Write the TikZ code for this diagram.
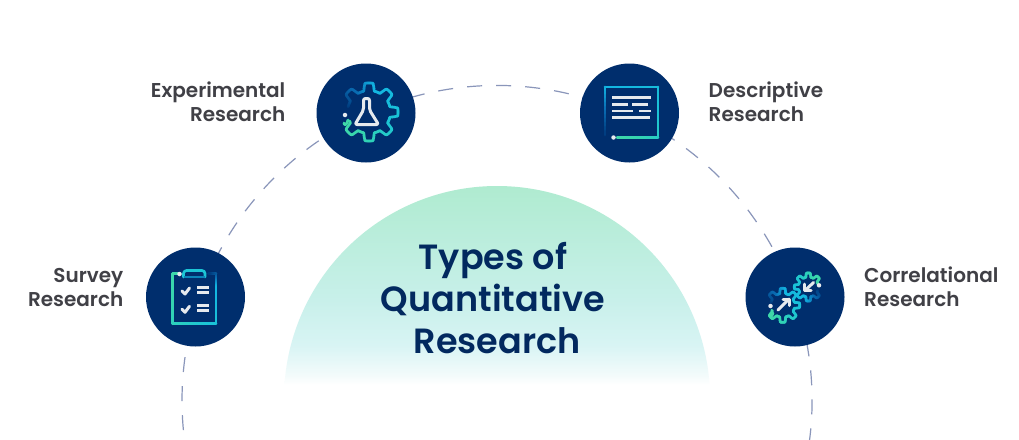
\documentclass[tikz,border=0pt]{standalone}
\usepackage{fontspec}
\setmainfont{Poppins}
\newfontfamily\psemi{Poppins SemiBold}
\definecolor{navy}{HTML}{002E6D}
\definecolor{titlecol}{HTML}{02295F}
\definecolor{labelcol}{HTML}{404046}
\definecolor{ringcol}{HTML}{8A96BA}
\definecolor{iconwhite}{HTML}{E6EAEE}
\definecolor{dA}{HTML}{003A7C}
\definecolor{dB}{HTML}{0A6FB5}
\definecolor{dC}{HTML}{12B5E2}
\definecolor{dD}{HTML}{1CC5D5}
\definecolor{dE}{HTML}{35D5B0}
\definecolor{dF}{HTML}{40D8A8}
\definecolor{domeA}{HTML}{AFEBD0}
\definecolor{domeB}{HTML}{C8F0EA}
\definecolor{domeC}{HTML}{D8F4F4}
\definecolor{domeD}{HTML}{F3FBFB}
\pgfdeclareverticalshading{domefade}{100bp}{color(0bp)=(white); color(25bp)=(white); color(27.5bp)=(domeD); color(35bp)=(domeC); color(46.4bp)=(domeB); color(75bp)=(domeA); color(100bp)=(domeA)}
\newcommand\palset[2]{%
  \pgfmathsetmacro\ppv{#2}%
  \ifdim\ppv pt<15pt
    \pgfmathsetmacro\qq{\ppv/15*100}\colorlet{#1}{dB!\qq!dA}%
  \else\ifdim\ppv pt<28pt
    \pgfmathsetmacro\qq{(\ppv-15)/13*100}\colorlet{#1}{dC!\qq!dB}%
  \else\ifdim\ppv pt<60pt
    \pgfmathsetmacro\qq{(\ppv-28)/32*100}\colorlet{#1}{dD!\qq!dC}%
  \else\ifdim\ppv pt<85pt
    \pgfmathsetmacro\qq{(\ppv-60)/25*100}\colorlet{#1}{dE!\qq!dD}%
  \else
    \pgfmathsetmacro\qq{min(100,(\ppv-85)/15*100)}\colorlet{#1}{dF!\qq!dE}%
  \fi\fi\fi\fi}
\newcommand\gearic[7]{%
  \pgfmathsetmacro\gstep{2}%
  \pgfmathtruncatemacro\gn{(#5-(#6))/\gstep}%
  \foreach \gi in {1,...,\gn}{%
    \pgfmathsetmacro\aa{#5-(\gi-1)*\gstep}%
    \pgfmathsetmacro\ab{#5-\gi*\gstep}%
    \pgfmathsetmacro\ua{abs(mod(\aa+1080-#7+22.5,45)-22.5)}%
    \pgfmathsetmacro\ub{abs(mod(\ab+1080-#7+22.5,45)-22.5)}%
    \pgfmathsetmacro\ra{#4+(#3-#4)*max(0,min(1,(14-\ua)/6))}%
    \pgfmathsetmacro\rb{#4+(#3-#4)*max(0,min(1,(14-\ub)/6))}%
    \palset{segc}{100*\gi/\gn}%
    \draw[iconline,segc] ({#1+\ra*cos(\aa)},{#2-\ra*sin(\aa)}) -- ({#1+\rb*cos(\ab)},{#2-\rb*sin(\ab)});
  }}
\newcommand\gradrun[6]{%
  \foreach \gi in {1,...,12}{%
    \palset{segc}{#5+(#6-(#5))*(\gi-0.5)/12}%
    \draw[iconline,segc] ({#1+(#3-(#1))*(\gi-1)/12},{#2+(#4-(#2))*(\gi-1)/12}) -- ({#1+(#3-(#1))*\gi/12},{#2+(#4-(#2))*\gi/12});
  }}
\tikzset{
  hub/.style={circle,fill=navy,draw=none,minimum size=99pt,inner sep=0pt},
  iconline/.style={line width=2.7pt,line cap=round,line join=round},
  iconmark/.style={draw=iconwhite,line width=3pt,line cap=round,line join=round},
  icondot/.style={circle,fill=iconwhite,inner sep=0pt,minimum size=4.5pt},
  sidelabel/.style={font=\psemi\fontsize{20}{24}\selectfont,text=labelcol,inner sep=0pt},
  titlelabel/.style={font=\psemi\fontsize{35}{42}\selectfont,text=titlecol,inner sep=0pt,anchor=base},
  ring/.style={draw=ringcol,line width=1.2pt,dash pattern=on 15pt off 14.09pt}
}
\begin{document}
\begin{tikzpicture}[x=1pt,y=-1pt]
\useasboundingbox (0,0) rectangle (1019,439);
\fill[white] (0,0) rectangle (1019,439);
\begin{scope}
\clip (497,399) circle[radius=213pt];
\shade[shading=domefade] (270,186) rectangle (724,385);
\end{scope}
\begin{scope}
\clip (0,0) rectangle (1019,439);
\draw[ring] ({497+315*cos(-18.39)},{400.5-315*sin(-18.39)}) arc[start angle=-18.39,end angle=201,radius=315pt];
\end{scope}
\node[hub] (exp) at (366,113) {};
\node[hub] (des) at (629.5,113) {};
\node[hub] (sur) at (195.5,297) {};
\node[hub] (cor) at (795,297) {};
\node[sidelabel,anchor=base east] (exp1) at (285.5,97) {Experimental};
\node[sidelabel,anchor=base east] (exp2) at (285.5,121) {Research};
\node[sidelabel,anchor=base west] (des1) at (708.5,97) {Descriptive};
\node[sidelabel,anchor=base west] (des2) at (708.5,121) {Research};
\node[sidelabel,anchor=base east] (sur1) at (123.5,282) {Survey};
\node[sidelabel,anchor=base east] (sur2) at (123.5,306) {Research};
\node[sidelabel,anchor=base west] (cor1) at (864,282) {Correlational};
\node[sidelabel,anchor=base west] (cor2) at (864,306) {Research};
\node[titlelabel] (t1) at (493,269) {Types of};
\node[titlelabel] (t2) at (493,311) {Quantitative};
\node[titlelabel] (t3) at (497,353) {Research};
% experimental icon
\gearic{369}{112}{29}{21.5}{166}{-156}{90}
\draw[iconline,dF] (344,123) .. controls (344,126) and (347,125) .. (348,120);
\node[icondot] (expd) at (345,115) {};
\draw[iconmark,rounded corners=2pt] (363.5,98.5) -- (369.5,98.5) -- (369.5,110) -- (378.5,124.5) -- (355,124.5) -- (363.5,110) -- cycle;
% descriptive icon
\gradrun{617}{137.5}{658}{137.5}{100}{72}
\gradrun{658}{137.5}{658}{87}{72}{45}
\gradrun{658}{87}{605}{87}{45}{28}
\gradrun{605}{87}{605}{135}{28}{0}
\node[icondot] (desd) at (613.5,137.5) {};
\foreach \ya/\xa/\xb in {97.7/612/651,104.7/612/628,104.7/632/648,111/612/633,111/639/651,117.7/612/650}{
  \draw[iconwhite,line width=2.6pt] (\xa,\ya) -- (\xb,\ya);
}
% survey icon
\gradrun{178}{273.7}{172.5}{273.7}{100}{96}
\gradrun{172.5}{273.7}{172.5}{323.7}{96}{78}
\gradrun{172.5}{323.7}{216}{323.7}{78}{55}
\gradrun{216}{323.7}{216}{285}{55}{28}
\gradrun{216}{285}{216}{273.7}{28}{10}
\gradrun{216}{273.7}{208.5}{273.7}{10}{0}
\node[icondot] (surd) at (179.5,274) {};
\draw[iconline,dD,rounded corners=3pt] (183.5,277) -- (183.5,270.5) -- (205,270.5) -- (205,277);
\draw[iconline,dA!40!dC,line cap=butt] (183.5,277) -- (205,277);
\foreach \dy in {0,18.3}{
  \draw[iconmark] (182,{291+\dy}) -- (185,{294+\dy}) -- (189.5,{288+\dy});
  \draw[iconwhite,line width=3pt] (197,{287+\dy}) -- (209,{287+\dy});
  \draw[iconwhite,line width=3pt] (197,{292+\dy}) -- (209,{292+\dy});
}
% correlational icon
\gearic{782.7}{305.3}{17}{12}{166}{-156}{90}
\draw[iconline,dF] (770,315) .. controls (770,317) and (772,317) .. (773,313);
\node[icondot] (cord) at (770.5,306) {};
\draw[iconmark] (778,310) -- (789,299);
\draw[iconmark] (783,299) -- (789.5,299) -- (789.5,305.5);
\gearic{808.3}{287}{14}{10}{-20}{-342}{90}
\node[icondot] (core) at (819,285.3) {};
\draw[iconmark] (813.5,282.5) -- (805,290.5);
\draw[iconmark] (811,290.5) -- (804.5,290.5) -- (804.5,284);
\end{tikzpicture}
\end{document}
